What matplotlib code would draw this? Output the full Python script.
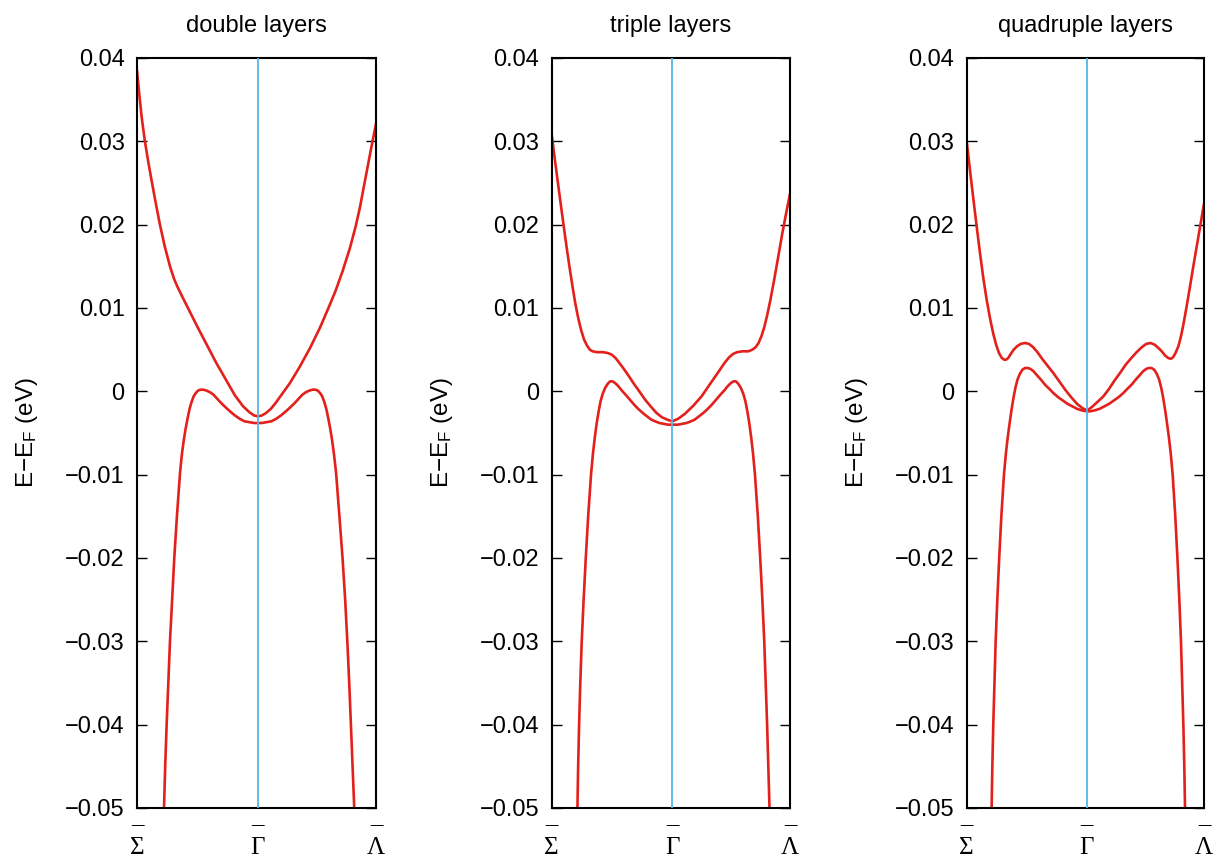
import matplotlib
matplotlib.use("Agg")
import matplotlib.pyplot as plt

plt.rcParams['font.family'] = ['Liberation Sans', 'DejaVu Sans']
plt.rcParams['mathtext.fontset'] = 'custom'
plt.rcParams['mathtext.rm'] = 'Liberation Sans'
plt.rcParams['mathtext.it'] = 'Liberation Sans:italic'
plt.rcParams['mathtext.bf'] = 'Liberation Sans:bold'

# ---------------- data ----------------
titles = ["double layers", "triple layers", "quadruple layers"]
k_ticks = [0.0, 0.506, 1.0]
k_labels = ['\u00af\n\u03a3', '\u00af\n\u0393', '\u00af\n\u039b']
e_ticks = [-0.05, -0.04, -0.03, -0.02, -0.01, 0.0, 0.01, 0.02, 0.03, 0.04]
e_labels = ['\u22120.05', '\u22120.04', '\u22120.03', '\u22120.02', '\u22120.01',
            '0', '0.01', '0.02', '0.03', '0.04']

# ---- double layers ----
k_c2 = [0.000, 0.010, 0.020, 0.033, 0.048, 0.063, 0.079, 0.096, 0.116, 0.138, 0.155,
        0.170, 0.187, 0.215, 0.250, 0.290, 0.330, 0.374, 0.410, 0.444, 0.470, 0.490,
        0.506, 0.522, 0.540, 0.560, 0.580, 0.600, 0.620, 0.640, 0.680, 0.724, 0.765,
        0.801, 0.830, 0.860, 0.891, 0.915, 0.933, 0.950, 0.964, 0.982, 1.000]
e_c2 = [0.0385, 0.0355, 0.0328, 0.0300, 0.0274, 0.0250, 0.0225, 0.0200, 0.0174, 0.0150,
        0.0135, 0.0125, 0.0115, 0.0099, 0.0079, 0.0057, 0.0035, 0.0013, -0.0005, -0.0018,
        -0.0025, -0.0029, -0.0030, -0.0029, -0.0026, -0.0021, -0.0014, -0.0006, 0.0002,
        0.0010, 0.0029, 0.0052, 0.0076, 0.0100, 0.0120, 0.0144, 0.0172, 0.0198, 0.0221,
        0.0247, 0.0268, 0.0295, 0.0321]
k_v2 = [0.113, 0.118, 0.124, 0.131, 0.138, 0.147, 0.156, 0.167, 0.180, 0.188, 0.196,
        0.204, 0.212, 0.220, 0.228, 0.237, 0.246, 0.256, 0.266, 0.277, 0.290, 0.305,
        0.320, 0.336, 0.352, 0.370, 0.389, 0.410, 0.430, 0.450, 0.470, 0.490, 0.506,
        0.522, 0.542, 0.562, 0.582, 0.602, 0.623, 0.642, 0.660, 0.676, 0.692, 0.707,
        0.722, 0.735, 0.746, 0.756, 0.766, 0.775, 0.784, 0.792, 0.800, 0.808, 0.816,
        0.824, 0.833, 0.847, 0.860, 0.871, 0.880, 0.888, 0.895, 0.902, 0.909]
e_v2 = [-0.050, -0.045, -0.040, -0.035, -0.030, -0.025, -0.020, -0.015, -0.0098, -0.0075,
        -0.0058, -0.0044, -0.0032, -0.0021, -0.0013, -0.0006, -0.0002, 0.0001, 0.0002,
        0.0002, 0.0001, -0.0001, -0.0004, -0.0009, -0.0014, -0.0019, -0.0024, -0.0029,
        -0.0033, -0.0036, -0.0037, -0.0038, -0.0038, -0.0038, -0.0037, -0.0036, -0.0033,
        -0.0029, -0.0024, -0.0019, -0.0014, -0.0009, -0.0004, -0.0001, 0.0001, 0.0002,
        0.0002, 0.0001, -0.0002, -0.0006, -0.0013, -0.0021, -0.0032, -0.0044, -0.0058,
        -0.0075, -0.0098, -0.0150, -0.0200, -0.0250, -0.0300, -0.0350, -0.0400, -0.0450,
        -0.0500]

# ---- triple layers ----
k_c3 = [0.000, 0.017, 0.035, 0.050, 0.063, 0.078, 0.090, 0.100, 0.112, 0.124, 0.136,
        0.148, 0.160, 0.172, 0.190, 0.215, 0.235, 0.252, 0.268, 0.284, 0.300, 0.322,
        0.345, 0.370, 0.392, 0.415, 0.440, 0.462, 0.485, 0.506, 0.530, 0.559, 0.595,
        0.629, 0.665, 0.699, 0.725, 0.745, 0.762, 0.778, 0.800, 0.825, 0.842, 0.856,
        0.868, 0.880, 0.892, 0.904, 0.918, 0.933, 0.951, 0.968, 0.984, 1.000]
e_c3 = [0.0308, 0.0270, 0.0231, 0.0199, 0.0172, 0.0143, 0.0121, 0.0104, 0.0087, 0.0073,
        0.0062, 0.0055, 0.0050, 0.0048, 0.0047, 0.0047, 0.0046, 0.0044, 0.0040, 0.0034,
        0.0028, 0.0019, 0.0009, -0.0001, -0.0010, -0.0018, -0.0026, -0.0031, -0.0034,
        -0.0036, -0.0033, -0.0027, -0.0017, -0.0006, 0.0009, 0.0023, 0.0034, 0.0041,
        0.0045, 0.0047, 0.0048, 0.0048, 0.0050, 0.0053, 0.0058, 0.0066, 0.0077, 0.0091,
        0.0110, 0.0133, 0.0162, 0.0190, 0.0214, 0.0237]
k_v3 = [0.108, 0.111, 0.115, 0.120, 0.126, 0.134, 0.143, 0.153, 0.165, 0.173, 0.181,
        0.189, 0.197, 0.205, 0.214, 0.224, 0.235, 0.245, 0.255, 0.266, 0.280, 0.294,
        0.310, 0.328, 0.346, 0.363, 0.382, 0.400, 0.418, 0.434, 0.452, 0.470, 0.488,
        0.506, 0.530, 0.548, 0.566, 0.584, 0.600, 0.618, 0.636, 0.655, 0.672, 0.690,
        0.708, 0.724, 0.738, 0.752, 0.763, 0.773, 0.783, 0.794, 0.804, 0.813, 0.821,
        0.829, 0.837, 0.845, 0.853, 0.865, 0.875, 0.884, 0.892, 0.898, 0.904, 0.909,
        0.914]
e_v3 = [-0.050, -0.045, -0.040, -0.035, -0.030, -0.025, -0.020, -0.015, -0.0100, -0.0075,
        -0.0055, -0.0038, -0.0024, -0.0012, -0.0003, 0.0004, 0.0009, 0.0012, 0.0012,
        0.0010, 0.0006, 0.0001, -0.0004, -0.0010, -0.0016, -0.0021, -0.0026, -0.0030,
        -0.0034, -0.0036, -0.0038, -0.0039, -0.0040, -0.0040, -0.0040, -0.0039, -0.0038,
        -0.0036, -0.0034, -0.0030, -0.0026, -0.0021, -0.0016, -0.0010, -0.0004, 0.0001,
        0.0006, 0.0010, 0.0012, 0.0012, 0.0009, 0.0004, -0.0003, -0.0012, -0.0024,
        -0.0038, -0.0055, -0.0075, -0.0100, -0.0150, -0.0200, -0.0250, -0.0300, -0.0350,
        -0.0400, -0.0450, -0.0500]

# ---- quadruple layers ----
k_c4 = [0.000, 0.014, 0.028, 0.042, 0.056, 0.070, 0.084, 0.098, 0.112, 0.124, 0.136,
        0.148, 0.158, 0.166, 0.175, 0.186, 0.198, 0.212, 0.228, 0.246, 0.262, 0.280,
        0.298, 0.318, 0.340, 0.365, 0.390, 0.415, 0.440, 0.465, 0.487, 0.507, 0.527,
        0.550, 0.576, 0.600, 0.623, 0.646, 0.670, 0.694, 0.716, 0.738, 0.757, 0.775,
        0.792, 0.808, 0.822, 0.836, 0.849, 0.860, 0.870, 0.880, 0.892, 0.903, 0.913,
        0.925, 0.940, 0.955, 0.970, 0.985, 1.000]
e_c4 = [0.0300, 0.0265, 0.0231, 0.0198, 0.0166, 0.0136, 0.0110, 0.0088, 0.0069, 0.0056,
        0.0046, 0.0040, 0.0038, 0.0038, 0.0040, 0.0045, 0.0050, 0.0054, 0.0057, 0.0058,
        0.0057, 0.0053, 0.0047, 0.0039, 0.0031, 0.0022, 0.0012, 0.0002, -0.0007, -0.0015,
        -0.0020, -0.0023, -0.0019, -0.0013, -0.0006, 0.0003, 0.0013, 0.0022, 0.0032,
        0.0040, 0.0047, 0.0053, 0.0057, 0.0058, 0.0056, 0.0052, 0.0048, 0.0043, 0.0040,
        0.0039, 0.0041, 0.0046, 0.0054, 0.0066, 0.0080, 0.0099, 0.0124, 0.0150, 0.0175,
        0.0200, 0.0225]
k_v4 = [0.105, 0.108, 0.112, 0.117, 0.122, 0.129, 0.137, 0.146, 0.157, 0.165, 0.173,
        0.181, 0.189, 0.197, 0.205, 0.214, 0.224, 0.235, 0.246, 0.257, 0.268, 0.282,
        0.297, 0.313, 0.330, 0.348, 0.365, 0.385, 0.405, 0.425, 0.445, 0.465, 0.487,
        0.507, 0.518, 0.538, 0.560, 0.580, 0.600, 0.620, 0.640, 0.660, 0.677, 0.695,
        0.712, 0.728, 0.743, 0.757, 0.768, 0.779, 0.790, 0.801, 0.811, 0.820, 0.828,
        0.836, 0.844, 0.852, 0.860, 0.868, 0.879, 0.888, 0.896, 0.903, 0.908, 0.913,
        0.917, 0.920]
e_v4 = [-0.050, -0.045, -0.040, -0.035, -0.030, -0.025, -0.020, -0.015, -0.0100, -0.0075,
        -0.0055, -0.0038, -0.0022, -0.0008, 0.0004, 0.0014, 0.0021, 0.0026, 0.0028, 0.0028,
        0.0027, 0.0024, 0.0019, 0.0014, 0.0008, 0.0003, -0.0002, -0.0007, -0.0011,
        -0.0015, -0.0018, -0.0021, -0.0023, -0.0024, -0.0024, -0.0023, -0.0021, -0.0018,
        -0.0015, -0.0011, -0.0007, -0.0002, 0.0003, 0.0008, 0.0014, 0.0019, 0.0024,
        0.0027, 0.0028, 0.0028, 0.0026, 0.0021, 0.0014, 0.0004, -0.0008, -0.0022, -0.0038,
        -0.0055, -0.0075, -0.0100, -0.0150, -0.0200, -0.0250, -0.0300, -0.0350, -0.0400,
        -0.0450, -0.0500]

bands = [((k_c2, e_c2), (k_v2, e_v2)),
         ((k_c3, e_c3), (k_v3, e_v3)),
         ((k_c4, e_c4), (k_v4, e_v4))]

# ---------------- figure ----------------
W, H = 1215, 857
fig = plt.figure(figsize=(W / 100, H / 100), dpi=100)
lefts_px = [137, 551.7, 966.7]
widths_px = [239, 238.3, 237.3]
bottom = 1 - 808 / H
height = (808 - 58) / H

red = '#e3201b'
blue = '#56b4e9'

for i in range(3):
    ax = fig.add_axes([lefts_px[i] / W, bottom, widths_px[i] / W, height])
    for (kk, ee) in bands[i]:
        ax.plot(kk, ee, color=red, lw=1.9, solid_joinstyle='round',
                solid_capstyle='round', zorder=2)
    ax.axvline(k_ticks[1], color=blue, lw=1.3, zorder=3)
    ax.set_xlim(k_ticks[0], k_ticks[-1])
    ax.set_ylim(-0.05, 0.04)
    ax.set_yticks(e_ticks)
    ax.set_yticklabels(e_labels)
    ax.set_xticks(k_ticks)
    ax.set_xticklabels(k_labels, family=['Liberation Serif', 'DejaVu Serif'],
                       fontsize=18, linespacing=0.36)
    ax.tick_params(axis='y', direction='in', length=7, width=1, left=True, right=True,
                   labelsize=17, pad=9, color='black')
    ax.tick_params(axis='x', length=0, pad=12.8)
    for s in ax.spines.values():
        s.set_linewidth(1.5)
        s.set_color('black')
    ax.set_title(titles[i], fontsize=17, pad=19)
    ax.set_ylabel('E\u2212E$_{\\mathrm{F}}$ (eV)', fontsize=17.5)
    ax.yaxis.set_label_coords(-0.406, 0.5)

fig.savefig('out.png', dpi=100)
